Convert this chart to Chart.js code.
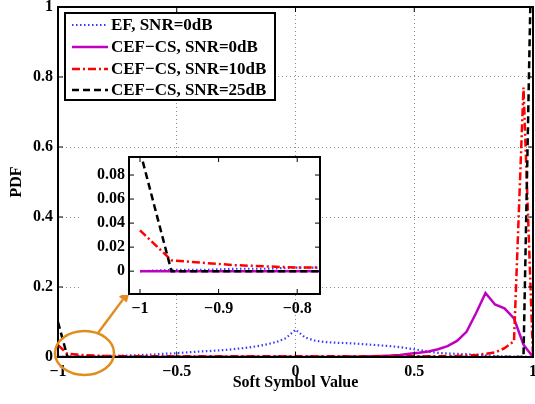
<!DOCTYPE html>
<html lang="en">
<head>
<meta charset="UTF-8">
<title>PDF of Soft Symbol Value</title>
<script src="https://cdn.jsdelivr.net/npm/chart.js"></script>
<style>
  body { margin: 0; background: #fff; }
  #wrap { position: relative; width: 535px; height: 404px; }
  #mainChart { position: absolute; left: 0; top: 0; }
  #insetChart { position: absolute; left: 80px; top: 150px; }
</style>
</head>
<body>
<div id="wrap">
  <canvas id="mainChart" width="535" height="404"></canvas>
  <canvas id="insetChart" width="245" height="170"></canvas>
</div>
<script>
// soft symbol values (x axis)
const xValues = [-1, -0.96, -0.92, -0.88, -0.84, -0.8, -0.76, -0.72, -0.68, -0.64,
  -0.6, -0.56, -0.52, -0.48, -0.44, -0.4, -0.36, -0.32, -0.28, -0.24,
  -0.2, -0.16, -0.12, -0.08, -0.04, 0, 0.04, 0.08, 0.12, 0.16,
  0.2, 0.24, 0.28, 0.32, 0.36, 0.4, 0.44, 0.48, 0.52, 0.56,
  0.6, 0.64, 0.68, 0.72, 0.76, 0.8, 0.84, 0.88, 0.92, 0.96, 1];

const seriesNames = ['EF, SNR=0dB', 'CEF\u2212CS, SNR=0dB', 'CEF\u2212CS, SNR=10dB', 'CEF\u2212CS, SNR=25dB'];

const efSnr0 = [0, 0.001, 0.001, 0.002, 0.002, 0.003, 0.003, 0.004, 0.005, 0.006,
  0.007, 0.009, 0.010, 0.012, 0.014, 0.016, 0.017, 0.019, 0.021, 0.024,
  0.027, 0.031, 0.036, 0.043, 0.054, 0.078, 0.056, 0.047, 0.043, 0.041,
  0.040, 0.039, 0.037, 0.035, 0.033, 0.031, 0.028, 0.024, 0.020, 0.015,
  0.012, 0.010, 0.009, 0.008, 0.006, 0.005, 0.003, 0.002, 0.001, 0.001, 0];

const cefSnr0 = [0, 0, 0, 0, 0, 0, 0, 0, 0, 0,
  0, 0, 0, 0, 0, 0, 0, 0, 0, 0,
  0, 0, 0, 0, 0, 0, 0, 0, 0, 0,
  0, 0.001, 0.001, 0.002, 0.003, 0.004, 0.006, 0.009, 0.012, 0.016,
  0.022, 0.031, 0.046, 0.072, 0.125, 0.183, 0.150, 0.139, 0.110, 0.035, 0];

const cefSnr10 = [0.034, 0.009, 0.007, 0.005, 0.004, 0.003, 0.003, 0.002, 0.002, 0.002,
  0.002, 0.002, 0.002, 0.002, 0.002, 0.002, 0.002, 0.002, 0.002, 0.002,
  0.002, 0.002, 0.002, 0.002, 0.002, 0.002, 0.002, 0.002, 0.002, 0.002,
  0.002, 0.002, 0.002, 0.002, 0.002, 0.002, 0.002, 0.002, 0.002, 0.002,
  0.002, 0.003, 0.003, 0.004, 0.006, 0.009, 0.013, 0.025, 0.045, 0.77, 0];

const cefSnr25 = [0.1, 0, 0, 0, 0, 0, 0, 0, 0, 0,
  0, 0, 0, 0, 0, 0, 0, 0, 0, 0,
  0, 0, 0, 0, 0, 0, 0, 0, 0, 0,
  0, 0, 0, 0, 0, 0, 0, 0, 0, 0,
  0, 0, 0, 0, 0, 0, 0, 0, 0, 0, 1.4];

const mainXTicks = [-1, -0.5, 0, 0.5, 1];
const mainYTicks = [0, 0.2, 0.4, 0.6, 0.8, 1];
const insetXTicks = [-1, -0.9, -0.8];
const insetYTicks = [0, 0.02, 0.04, 0.06, 0.08];

const serif = 'Liberation Serif, Times New Roman, serif';
const orange = '#e08c1e';

function pts(ys) {
  return xValues.map((x, i) => ({ x: x, y: ys[i] }));
}

function makeDatasets() {
  return [
    { label: seriesNames[0], data: pts(efSnr0), borderColor: '#3a3aff', borderWidth: 2.2, borderDash: [1.5, 2.5], order: 4 },
    { label: seriesNames[1], data: pts(cefSnr0), borderColor: '#c000c0', borderWidth: 2.5, order: 3 },
    { label: seriesNames[2], data: pts(cefSnr10), borderColor: '#ff0000', borderWidth: 2.5, borderDash: [8, 3, 2, 3], order: 2 },
    { label: seriesNames[3], data: pts(cefSnr25), borderColor: '#000000', borderWidth: 2.5, borderDash: [7, 4], order: 1 }
  ];
}

function fmt(v) {
  return v < 0 ? '\u2212' + String(Math.abs(v)) : String(v);
}

// fixed axis sizes, no extra padding for edge labels
function fitX(h) {
  return s => { s.height = h; s.paddingLeft = 0; s.paddingRight = 0; };
}
function fitY(w) {
  return s => { s.width = w; s.paddingTop = 0; s.paddingBottom = 0; };
}

// box around the axes with small inward ticks, like matlab
const framePlugin = {
  id: 'frame',
  afterDatasetsDraw(chart) {
    const { ctx, chartArea: a, scales } = chart;
    const t = 5;
    ctx.save();
    ctx.strokeStyle = '#000';
    ctx.lineWidth = 1;
    ctx.beginPath();
    scales.x.ticks.forEach(tk => {
      const px = scales.x.getPixelForValue(tk.value);
      ctx.moveTo(px, a.bottom); ctx.lineTo(px, a.bottom - t);
      ctx.moveTo(px, a.top); ctx.lineTo(px, a.top + t);
    });
    scales.y.ticks.forEach(tk => {
      const py = scales.y.getPixelForValue(tk.value);
      ctx.moveTo(a.left, py); ctx.lineTo(a.left + t, py);
      ctx.moveTo(a.right, py); ctx.lineTo(a.right - t, py);
    });
    ctx.stroke();
    ctx.lineWidth = 2;
    ctx.strokeRect(a.left, a.top, a.right - a.left, a.bottom - a.top);
    ctx.restore();
  }
};

const legendPlugin = {
  id: 'boxLegend',
  afterDraw(chart) {
    const ctx = chart.ctx;
    const box = { l: 65, t: 13, r: 275, b: 100 };
    ctx.save();
    ctx.fillStyle = '#fff';
    ctx.fillRect(box.l, box.t, box.r - box.l, box.b - box.t);
    ctx.strokeStyle = '#000';
    ctx.lineWidth = 2;
    ctx.strokeRect(box.l, box.t, box.r - box.l, box.b - box.t);
    const rows = [25, 47, 69, 90];
    ctx.font = 'bold 17px ' + serif;
    ctx.textBaseline = 'middle';
    ctx.textAlign = 'left';
    chart.data.datasets.forEach((ds, i) => {
      ctx.beginPath();
      ctx.strokeStyle = ds.borderColor;
      ctx.lineWidth = ds.borderWidth;
      ctx.setLineDash(ds.borderDash || []);
      ctx.moveTo(72, rows[i]);
      ctx.lineTo(108, rows[i]);
      ctx.stroke();
      ctx.setLineDash([]);
      ctx.fillStyle = '#000';
      ctx.fillText(ds.label, 111, rows[i] + 1);
    });
    ctx.restore();
  }
};

// orange ellipse + arrow pointing to the zoomed inset
const zoomMarkPlugin = {
  id: 'zoomMark',
  afterDraw(chart) {
    const ctx = chart.ctx;
    ctx.save();
    ctx.strokeStyle = orange;
    ctx.fillStyle = orange;
    ctx.lineWidth = 2.5;
    ctx.beginPath();
    ctx.ellipse(84.5, 353, 29.5, 22, 0, 0, Math.PI * 2);
    ctx.stroke();
    const x1 = 98, y1 = 333, x2 = 130, y2 = 290;
    const ang = Math.atan2(y2 - y1, x2 - x1);
    const hl = 12, hw = 5;
    const bx = x2 - hl * Math.cos(ang), by = y2 - hl * Math.sin(ang);
    ctx.beginPath();
    ctx.moveTo(x1, y1);
    ctx.lineTo(bx, by);
    ctx.stroke();
    ctx.beginPath();
    ctx.moveTo(x2, y2);
    ctx.lineTo(bx + hw * Math.sin(ang), by - hw * Math.cos(ang));
    ctx.lineTo(bx - hw * Math.sin(ang), by + hw * Math.cos(ang));
    ctx.closePath();
    ctx.fill();
    ctx.restore();
  }
};

const insetBgPlugin = {
  id: 'insetBg',
  beforeDraw(chart) {
    const { ctx, chartArea: a } = chart;
    ctx.save();
    ctx.fillStyle = '#fff';
    ctx.fillRect(0, a.top - 1, a.right + 1, a.bottom - a.top + 2);
    ctx.restore();
  }
};

const tickFont = { family: serif, weight: 'bold', size: 16 };

new Chart(document.getElementById('mainChart').getContext('2d'), {
  type: 'line',
  data: { datasets: makeDatasets() },
  options: {
    responsive: false,
    animation: false,
    devicePixelRatio: 1,
    layout: { padding: { top: 7, right: 2, left: 0, bottom: 0 } },
    elements: { point: { radius: 0 }, line: { tension: 0 } },
    plugins: { legend: { display: false }, tooltip: { enabled: false } },
    scales: {
      x: {
        type: 'linear', min: -1, max: 1,
        afterBuildTicks: s => { s.ticks = mainXTicks.map(v => ({ value: v })); },
        afterFit: fitX(47),
        grid: { color: '#8c8c8c', lineWidth: 1, drawTicks: false },
        border: { display: false, dash: [1, 3] },
        ticks: { font: tickFont, color: '#000', padding: 5, maxRotation: 0, callback: v => fmt(v) },
        title: { display: true, text: 'Soft Symbol Value', font: tickFont, color: '#000', padding: { top: 0, bottom: 12 } }
      },
      y: {
        min: 0, max: 1,
        afterBuildTicks: s => { s.ticks = mainYTicks.map(v => ({ value: v })); },
        afterFit: fitY(58),
        grid: { color: '#8c8c8c', lineWidth: 1, drawTicks: false },
        border: { display: false, dash: [1, 3] },
        ticks: { font: tickFont, color: '#000', padding: 5, callback: v => fmt(v) },
        title: { display: true, text: 'PDF', font: tickFont, color: '#000', padding: { top: 7, bottom: 0 } }
      }
    }
  },
  plugins: [framePlugin, legendPlugin, zoomMarkPlugin]
});

new Chart(document.getElementById('insetChart').getContext('2d'), {
  type: 'line',
  data: { datasets: makeDatasets() },
  options: {
    responsive: false,
    animation: false,
    devicePixelRatio: 1,
    layout: { padding: { top: 7, right: 5, left: 0, bottom: 0 } },
    elements: { point: { radius: 0 }, line: { tension: 0 } },
    plugins: { legend: { display: false }, tooltip: { enabled: false } },
    scales: {
      x: {
        type: 'linear', min: -1.014, max: -0.771,
        afterBuildTicks: s => { s.ticks = insetXTicks.map(v => ({ value: v })); },
        afterFit: fitX(26),
        grid: { display: false, drawTicks: false },
        border: { display: false },
        ticks: { font: tickFont, color: '#000', padding: 5, maxRotation: 0, callback: v => fmt(v) }
      },
      y: {
        min: -0.019, max: 0.095,
        afterBuildTicks: s => { s.ticks = insetYTicks.map(v => ({ value: v })); },
        afterFit: fitY(49),
        grid: { display: false, drawTicks: false },
        border: { display: false },
        ticks: { font: tickFont, color: '#000', padding: 4, callback: v => fmt(v) }
      }
    }
  },
  plugins: [insetBgPlugin, framePlugin]
});
</script>
</body>
</html>
